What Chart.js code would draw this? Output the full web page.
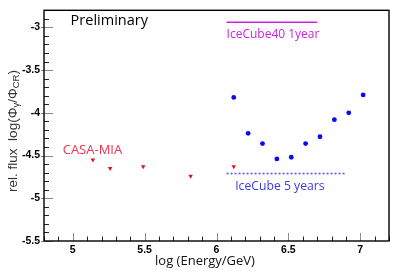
<!DOCTYPE html>
<html><head><meta charset="utf-8">
<script src="https://cdn.jsdelivr.net/npm/chart.js@4.4.1/dist/chart.umd.min.js"></script>
<style>html,body{margin:0;padding:0;background:#fff}canvas{display:block}</style>
</head><body>
<canvas id="c" width="399" height="274"></canvas>
<script>
// ---- data ----
const casaX = [5.14, 5.26, 5.49, 5.82, 6.12];
const casaY = [-4.55, -4.65, -4.63, -4.74, -4.63];
const icX = [6.12, 6.22, 6.32, 6.42, 6.52, 6.62, 6.72, 6.82, 6.92, 7.02];
const icY = [-3.82, -4.24, -4.36, -4.54, -4.52, -4.36, -4.28, -4.08, -4.00, -3.79];
const ic40X = [6.07, 6.70];
const ic40Y = [-2.94, -2.94];
const ic5X = [6.07, 6.90];
const ic5Y = [-4.71, -4.71];
const xTicks = [5, 5.5, 6, 6.5, 7];
const yTicks = [-5.5, -5, -4.5, -4, -3.5, -3];
const xRange = [4.8, 7.2];
const yRange = [-5.5, -2.8];

const pts = (xs, ys) => xs.map((x, i) => ({x, y: ys[i]}));

const notes = [
  {text: 'Preliminary', x: 4.985, y: -2.925, color: '#000', font: '14.5px "Open Sans"'},
  {text: 'IceCube40 1year', x: 6.07, y: -3.08, color: '#cc22e6', font: '12px "Open Sans"'},
  {text: 'IceCube 5 years', x: 6.13, y: -4.86, color: '#3a3ae0', font: '12.2px "Open Sans"'},
  {text: 'CASA-MIA', x: 4.93, y: -4.435, color: '#ec3550', font: '13px "Open Sans"'}
];

const frame = {
  id: 'frame',
  afterDraw(chart) {
    const {ctx, chartArea: a, scales} = chart;
    const xs = scales.x, ys = scales.y;
    ctx.save();
    const isMajor = v => Math.abs(v * 2 - Math.round(v * 2)) < 1e-6;
    for (let k = Math.round(xRange[0] * 10); k <= Math.round(xRange[1] * 10); k++) {
      const v = k / 10, px = Math.round(xs.getPixelForValue(v)) + 0.5;
      const maj = isMajor(v);
      ctx.strokeStyle = maj ? '#8a8a8a' : '#222';
      ctx.lineWidth = 1;
      ctx.beginPath(); ctx.moveTo(px, a.bottom); ctx.lineTo(px, a.bottom - (maj ? 8 : 4.5)); ctx.stroke();
    }
    for (let k = Math.round(yRange[0] * 10); k <= Math.round(yRange[1] * 10); k++) {
      const v = k / 10, py = Math.round(ys.getPixelForValue(v)) + 0.5;
      const maj = isMajor(v);
      ctx.strokeStyle = maj ? '#8a8a8a' : '#222';
      ctx.lineWidth = 1;
      ctx.beginPath(); ctx.moveTo(a.left - (maj ? 3 : 0), py); ctx.lineTo(a.left + (maj ? 9 : 5), py); ctx.stroke();
    }
    ctx.strokeStyle = '#000';
    ctx.lineWidth = 1.4;
    ctx.strokeRect(a.left, a.top, a.right - a.left, a.bottom - a.top);
    ctx.textBaseline = 'middle';
    ctx.textAlign = 'left';
    notes.forEach(n => {
      ctx.font = n.font; ctx.fillStyle = n.color;
      ctx.fillText(n.text, xs.getPixelForValue(n.x), ys.getPixelForValue(n.y));
    });
    ctx.fillStyle = '#111';
    ctx.font = '13px "Open Sans"';
    ctx.textAlign = 'center';
    ctx.fillText('log (Energy/GeV)', 205, 261);
    ctx.translate(13, 131);
    ctx.rotate(-Math.PI / 2);
    const big = '13.5px "Liberation Sans"', small = '9.5px "Liberation Sans"';
    const parts = [['rel. flux  log(\u03A6', big, 0], ['\u03B3', small, 3], ['/\u03A6', big, 0], ['CR', small, 3], [')', big, 0]];
    let w = 0;
    parts.forEach(p => { ctx.font = p[1]; w += ctx.measureText(p[0]).width; });
    let cx = -w / 2;
    ctx.textAlign = 'left';
    ctx.fillStyle = '#333';
    parts.forEach(p => { ctx.font = p[1]; ctx.fillText(p[0], cx, p[2]); cx += ctx.measureText(p[0]).width; });
    ctx.restore();
  }
};

new Chart(document.getElementById('c'), {
  type: 'scatter',
  data: {
    datasets: [
      {label: 'CASA-MIA', data: pts(casaX, casaY), pointStyle: 'triangle', rotation: 180, pointRadius: 2.6,
       backgroundColor: '#e0141e', borderColor: '#e0141e', borderWidth: 0},
      {label: 'IceCube', data: pts(icX, icY), pointStyle: 'circle', pointRadius: 2.4,
       backgroundColor: '#0a0aee', borderColor: '#0a0aee', borderWidth: 0},
      {label: 'IceCube40 1year', data: pts(ic40X, ic40Y), showLine: true, pointRadius: 0,
       borderColor: '#cc22e6', borderWidth: 1.6},
      {label: 'IceCube 5 years', data: pts(ic5X, ic5Y), showLine: true, pointRadius: 0,
       borderColor: '#5a5ae8', borderWidth: 1.6, borderDash: [2, 2]}
    ]
  },
  options: {
    responsive: false,
    animation: false,
    events: [],
    layout: {padding: {top: 6.5, right: 10, left: 0, bottom: 0}},
    plugins: {legend: {display: false}, tooltip: {enabled: false}},
    scales: {
      x: {
        type: 'linear', min: xRange[0], max: xRange[1],
        grid: {display: false, drawTicks: false}, border: {display: false},
        afterBuildTicks: s => { s.ticks = xTicks.map(v => ({value: v})); },
        afterFit: s => { s.height = 33; },
        ticks: {autoSkip: false, maxRotation: 0, padding: 3, color: '#000',
                font: {family: 'Liberation Sans', weight: 'bold', size: 10.5},
                callback: v => String(v)}
      },
      y: {
        type: 'linear', min: yRange[0], max: yRange[1],
        grid: {display: false, drawTicks: false}, border: {display: false},
        afterBuildTicks: s => { s.ticks = yTicks.map(v => ({value: v})); },
        afterFit: s => { s.width = 44; },
        ticks: {autoSkip: false, padding: 4, color: '#000',
                font: {family: 'Liberation Sans', weight: 'bold', size: 10.5},
                callback: v => String(v)}
      }
    }
  },
  plugins: [frame]
});
</script>
</body></html>
